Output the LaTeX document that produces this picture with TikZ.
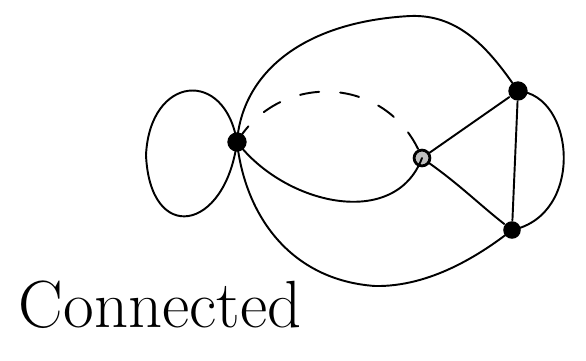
\documentclass[tikz,border=0pt]{standalone}
\begin{document}
\begin{tikzpicture}[x=0.02cm, y=-0.02cm, line width=1.1pt, line cap=round,
  vertex/.style={circle, fill=black, inner sep=0pt, minimum size=11pt},
  dashedge/.style={dash pattern=on 11pt off 12pt}]
\useasboundingbox (0,0) rectangle (586,360);
\node[vertex] (a) at (237,142) {};
\node[vertex, draw=black, fill=gray!50, line width=1.6pt, minimum size=9pt] (b) at (422,158) {};
\node[vertex] (c) at (518,91) {};
\node[vertex, minimum size=10pt] (d) at (512,230) {};
\coordinate (l) at (146,155);
\coordinate (t) at (410,16);
\coordinate (u) at (375,286);
% loop on the left vertex
\draw (a.center) .. controls (225,68) and (150,75) .. (l) .. controls (150,245) and (225,232) .. (a.center);
% outer arcs
\draw (a.center) .. controls (242,75) and (300,22) .. (t) .. controls (460,14) and (490,50) .. (c.center);
\draw (a.center) .. controls (245,215) and (290,280) .. (u) .. controls (430,287) and (480,255) .. (d.center);
\draw (c.center) .. controls (575,95) and (585,215) .. (d.center);
% between left and middle vertex
\draw (a.center) .. controls (285,205) and (395,230) .. (b.center);
\draw[dashedge] (a.center) .. controls (280,70) and (390,75) .. (b.center);
% triangle
\draw (b) -- (c);
\draw (b) .. controls (460,185) and (480,205) .. (d);
\draw (c) -- (d);
\node[anchor=base west, inner sep=0pt, font=\fontsize{38}{42}\selectfont] (lbl) at (18,327) {Connected};
\end{tikzpicture}
\end{document}
